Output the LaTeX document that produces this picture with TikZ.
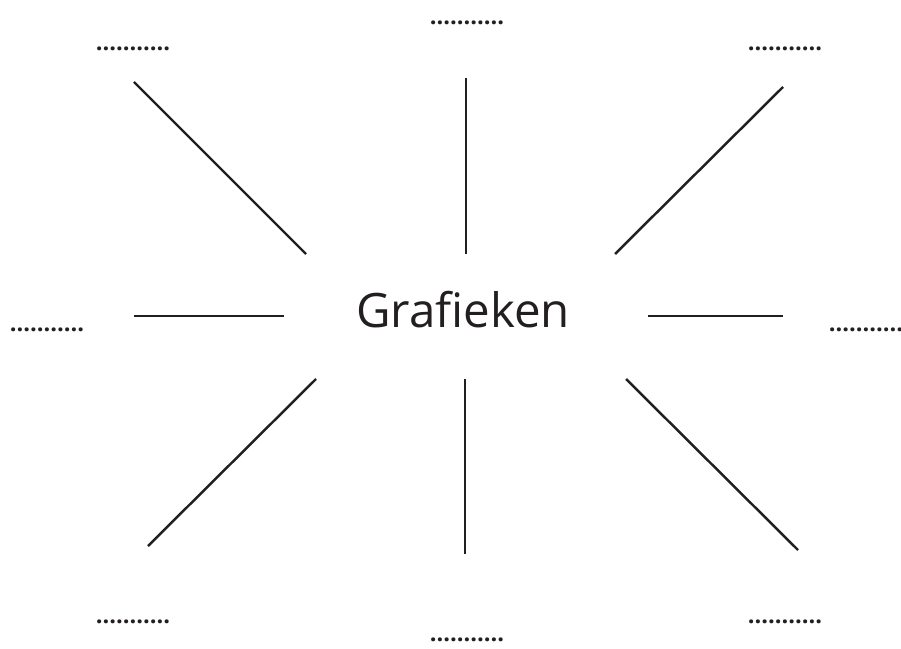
\documentclass[tikz,border=0pt]{standalone}
\usepackage{fontspec}
\setmainfont{Open Sans}
\usepackage{tikz}
\usetikzlibrary{positioning}
\definecolor{SpiderInk}{HTML}{231F20}

\begin{document}
\begin{tikzpicture}[
      x=0.02cm, y=-0.02cm,
      title/.style={font=\fontsize{27}{30}\selectfont, text=SpiderInk, inner sep=0pt},
      blank/.style={font=\bfseries\fontsize{13.5}{16}\selectfont, text=SpiderInk, inner sep=0pt},
      spoke/.style={draw=SpiderInk, line width=1.4pt}
    ]
    \useasboundingbox (0,0) rectangle (901,648);

    \node[title] (centre) at (463,310) {Grafieken};

    % answer slots round the centre
    \node[blank] (slotN)  at (467,23)  {...........};
    \node[blank] (slotNW) at (133,49)  {...........};
    \node[blank] (slotNE) at (785,49)  {...........};
    \node[blank] (slotW)  at (47,330)  {...........};
    \node[blank] (slotE)  at (866,330) {...........};
    \node[blank] (slotSW) at (133,622) {...........};
    \node[blank] (slotS)  at (467,640) {...........};
    \node[blank] (slotSE) at (785,622) {...........};

    % spoke ends
    \coordinate (nwA) at (134,82);  \coordinate (nwB) at (306,254);
    \coordinate (nA)  at (466,78);  \coordinate (nB)  at (466,254);
    \coordinate (neA) at (783,87);  \coordinate (neB) at (615,254);
    \coordinate (wA)  at (134,316); \coordinate (wB)  at (284,316);
    \coordinate (eA)  at (648,316); \coordinate (eB)  at (783,316);
    \coordinate (swA) at (316,379); \coordinate (swB) at (148,546);
    \coordinate (sA)  at (465,379); \coordinate (sB)  at (465,554);
    \coordinate (seA) at (626,379); \coordinate (seB) at (798,550);

    \draw[spoke] (nwA) -- (nwB);
    \draw[spoke] (nA) -- (nB);
    \draw[spoke] (neA) -- (neB);
    \draw[spoke] (wA) -- (wB);
    \draw[spoke] (eA) -- (eB);
    \draw[spoke] (swA) -- (swB);
    \draw[spoke] (sA) -- (sB);
    \draw[spoke] (seA) -- (seB);
  \end{tikzpicture}
\end{document}
